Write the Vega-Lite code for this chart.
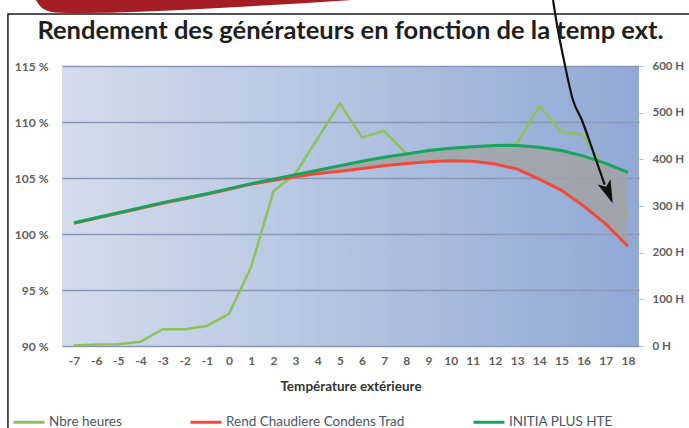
{
  "$schema": "https://vega.github.io/schema/vega-lite/v6.json",
  "width": 577,
  "height": 280,
  "autosize": {"type": "none"},
  "padding": {"left": 62, "top": 66, "right": 50, "bottom": 82},
  "background": "white",
  "title": {
    "text": "Rendement des générateurs en fonction de la temp ext.",
    "font": "Lato",
    "fontSize": 25.5,
    "fontWeight": "bold",
    "color": "#1e1e1e",
    "anchor": "middle",
    "frame": "group",
    "offset": -49
  },
  "config": {
    "font": "Lato",
    "axisX": {"labelOverlap": false},
    "view": {
      "stroke": null,
      "fill": {
        "gradient": "linear",
        "x1": 0, "y1": 0, "x2": 1, "y2": 0,
        "stops": [
          {"offset": 0, "color": "#d4dcec"},
          {"offset": 1, "color": "#90a9d5"}
        ]
      }
    }
  },
  "datasets": {
    "wide": [
      {"t": -7, "initia": 101.0, "rend": 100.95, "heures": 1},
      {"t": -6, "initia": 101.45, "rend": 101.4, "heures": 3},
      {"t": -5, "initia": 101.9, "rend": 101.85, "heures": 4},
      {"t": -4, "initia": 102.35, "rend": 102.3, "heures": 9},
      {"t": -3, "initia": 102.8, "rend": 102.75, "heures": 36},
      {"t": -2, "initia": 103.2, "rend": 103.15, "heures": 36},
      {"t": -1, "initia": 103.6, "rend": 103.55, "heures": 43},
      {"t": 0, "initia": 104.05, "rend": 104.0, "heures": 69},
      {"t": 1, "initia": 104.5, "rend": 104.45, "heures": 170},
      {"t": 2, "initia": 104.9, "rend": 104.8, "heures": 331},
      {"t": 3, "initia": 105.3, "rend": 105.1, "heures": 370},
      {"t": 4, "initia": 105.7, "rend": 105.4, "heures": 445},
      {"t": 5, "initia": 106.1, "rend": 105.6, "heures": 520},
      {"t": 6, "initia": 106.5, "rend": 105.85, "heures": 447},
      {"t": 7, "initia": 106.85, "rend": 106.1, "heures": 461},
      {"t": 8, "initia": 107.15, "rend": 106.3, "heures": 412},
      {"t": 9, "initia": 107.45, "rend": 106.45, "heures": 418},
      {"t": 10, "initia": 107.65, "rend": 106.55, "heures": 423},
      {"t": 11, "initia": 107.8, "rend": 106.5, "heures": 427},
      {"t": 12, "initia": 107.9, "rend": 106.25, "heures": 430},
      {"t": 13, "initia": 107.9, "rend": 105.8, "heures": 434},
      {"t": 14, "initia": 107.75, "rend": 104.9, "heures": 514},
      {"t": 15, "initia": 107.45, "rend": 103.9, "heures": 459},
      {"t": 16, "initia": 106.95, "rend": 102.5, "heures": 452},
      {"t": 17, "initia": 106.3, "rend": 100.9, "heures": 373},
      {"t": 18, "initia": 105.5, "rend": 98.9, "heures": 280}
    ],
    "arrow": [
      {"t": 14.62, "v": 120.89},
      {"t": 14.84, "v": 118.21},
      {"t": 15.11, "v": 115.54},
      {"t": 15.52, "v": 111.96},
      {"t": 15.92, "v": 110.18},
      {"t": 16.56, "v": 106.61},
      {"t": 16.95, "v": 104.4}
    ],
    "arrowhead": [{"t": 17.12, "v": 103.7}],
    "frame": [{"t1": -9.98, "t2": 21.5, "v1": 119.64, "v2": 80}],
    "banner": [
      {"t": -8.715, "top": 120.89, "bot": 120.89},
      {"t": -8.44, "top": 120.89, "bot": 120.18},
      {"t": -7.86, "top": 120.89, "bot": 119.78},
      {"t": -6.73, "top": 120.89, "bot": 119.73},
      {"t": -1.31, "top": 120.89, "bot": 120.1},
      {"t": 5.545, "top": 120.89, "bot": 120.89}
    ]
  },
  "layer": [
    {
      "data": {"name": "wide"},
      "mark": {"type": "line", "strokeWidth": 2.5},
      "encoding": {
        "x": {
          "field": "t",
          "type": "quantitative",
          "scale": {"domain": [-7.54, 18.5], "nice": false, "zero": false},
          "axis": {
            "values": [-7, -6, -5, -4, -3, -2, -1, 0, 1, 2, 3, 4, 5, 6, 7, 8, 9, 10, 11, 12, 13, 14, 15, 16, 17, 18],
            "tickCount": 40,
            "labelExpr": "'' + datum.value",
            "title": "Température extérieure",
            "titleFont": "Lato",
            "titleFontSize": 13.5,
            "titleFontWeight": "bold",
            "titleColor": "#333333",
            "titlePadding": 13,
            "labelFont": "Lato",
            "labelFontSize": 12,
            "labelFontWeight": "bold",
            "labelColor": "#5f5f5f",
            "labelPadding": 9,
            "labelFlush": false,
            "labelOverlap": false,
            "ticks": false,
            "domain": false,
            "grid": false
          }
        },
        "y": {
          "field": "heures",
          "type": "quantitative",
          "scale": {"domain": [0, 600], "nice": false},
          "axis": {
            "orient": "right",
            "values": [0, 100, 200, 300, 400, 500, 600],
            "tickCount": 10,
            "labelExpr": "datum.value + ' H'",
            "title": null,
            "grid": false,
            "ticks": true,
            "tickColor": "#a9bfdf",
            "tickSize": 4,
            "domain": false,
            "labelPadding": 9,
            "labelFont": "Lato",
            "labelFontSize": 11.5,
            "labelFontWeight": "bold",
            "labelColor": "#5f5f5f"
          }
        },
        "color": {
          "datum": "Nbre heures",
          "scale": {
            "domain": ["Nbre heures", "Rend Chaudiere Condens Trad", "INITIA PLUS HTE"],
            "range": ["#8fc15a", "#f04b3a", "#17a45c"]
          },
          "legend": {
            "orient": "none",
            "legendX": -50,
            "legendY": 339,
            "direction": "horizontal",
            "title": null,
            "symbolType": "stroke",
            "symbolSize": 961,
            "symbolStrokeWidth": 3,
            "labelFont": "Lato",
            "labelFontSize": 13.5,
            "labelColor": "#4a5668",
            "labelOffset": 3,
            "labelLimit": 400,
            "columnPadding": 62
          }
        }
      }
    },
    {
      "layer": [
        {
          "data": {"name": "wide"},
          "transform": [{"filter": "datum.t >= 1"}],
          "mark": {"type": "area", "color": "#a3a3a3", "opacity": 0.8},
          "encoding": {
            "x": {"field": "t", "type": "quantitative", "scale": {"domain": [-7.54, 18.5], "nice": false, "zero": false}},
            "y": {
              "field": "rend",
              "type": "quantitative",
              "scale": {"domain": [90, 115], "nice": false, "zero": false},
              "axis": {
                "orient": "left",
                "values": [90, 95, 100, 105, 110, 115],
                "tickCount": 10,
                "labelExpr": "datum.value + ' %'",
                "title": null,
                "grid": true,
                "gridColor": "#8797b5",
                "gridWidth": 1.5,
                "ticks": false,
                "domain": false,
                "labelPadding": 14,
                "labelFont": "Lato",
                "labelFontSize": 12,
                "labelFontWeight": "bold",
                "labelColor": "#5f5f5f"
              }
            },
            "y2": {"field": "initia"}
          }
        },
        {
          "data": {"name": "wide"},
          "mark": {"type": "line", "strokeWidth": 3},
          "encoding": {
            "x": {"field": "t", "type": "quantitative", "scale": {"domain": [-7.54, 18.5], "nice": false, "zero": false}},
            "y": {"field": "rend", "type": "quantitative", "scale": {"domain": [90, 115], "nice": false, "zero": false}},
            "color": {"datum": "Rend Chaudiere Condens Trad"}
          }
        },
        {
          "data": {"name": "wide"},
          "mark": {"type": "line", "strokeWidth": 3},
          "encoding": {
            "x": {"field": "t", "type": "quantitative", "scale": {"domain": [-7.54, 18.5], "nice": false, "zero": false}},
            "y": {"field": "initia", "type": "quantitative", "scale": {"domain": [90, 115], "nice": false, "zero": false}},
            "color": {"datum": "INITIA PLUS HTE"}
          }
        },
        {
          "data": {"name": "arrow"},
          "mark": {"type": "line", "color": "#111111", "strokeWidth": 2.2, "interpolate": "monotone"},
          "encoding": {
            "x": {"field": "t", "type": "quantitative", "scale": {"domain": [-7.54, 18.5], "nice": false, "zero": false}},
            "y": {"field": "v", "type": "quantitative", "scale": {"domain": [90, 115], "nice": false, "zero": false}}
          }
        },
        {
          "data": {"name": "arrowhead"},
          "mark": {"type": "point", "shape": "M0,1L-0.6,-1L0,-0.55L0.6,-1Z", "filled": true, "color": "#111111", "size": 530, "angle": -22, "opacity": 1},
          "encoding": {
            "x": {"field": "t", "type": "quantitative", "scale": {"domain": [-7.54, 18.5], "nice": false, "zero": false}},
            "y": {"field": "v", "type": "quantitative", "scale": {"domain": [90, 115], "nice": false, "zero": false}}
          }
        },
        {
          "data": {"name": "banner"},
          "mark": {"type": "area", "color": "#a51d25", "interpolate": "monotone"},
          "encoding": {
            "x": {"field": "t", "type": "quantitative", "scale": {"domain": [-7.54, 18.5], "nice": false, "zero": false}},
            "y": {"field": "top", "type": "quantitative", "scale": {"domain": [90, 115], "nice": false, "zero": false}},
            "y2": {"field": "bot"}
          }
        },
        {
          "data": {"name": "frame"},
          "mark": {"type": "rect", "fillOpacity": 0, "stroke": "#1a1a1a", "strokeWidth": 1.5},
          "encoding": {
            "x": {"field": "t1", "type": "quantitative", "scale": {"domain": [-7.54, 18.5], "nice": false, "zero": false}},
            "x2": {"field": "t2"},
            "y": {"field": "v1", "type": "quantitative", "scale": {"domain": [90, 115], "nice": false, "zero": false}},
            "y2": {"field": "v2"}
          }
        }
      ]
    }
  ],
  "resolve": {"scale": {"y": "independent"}}
}
